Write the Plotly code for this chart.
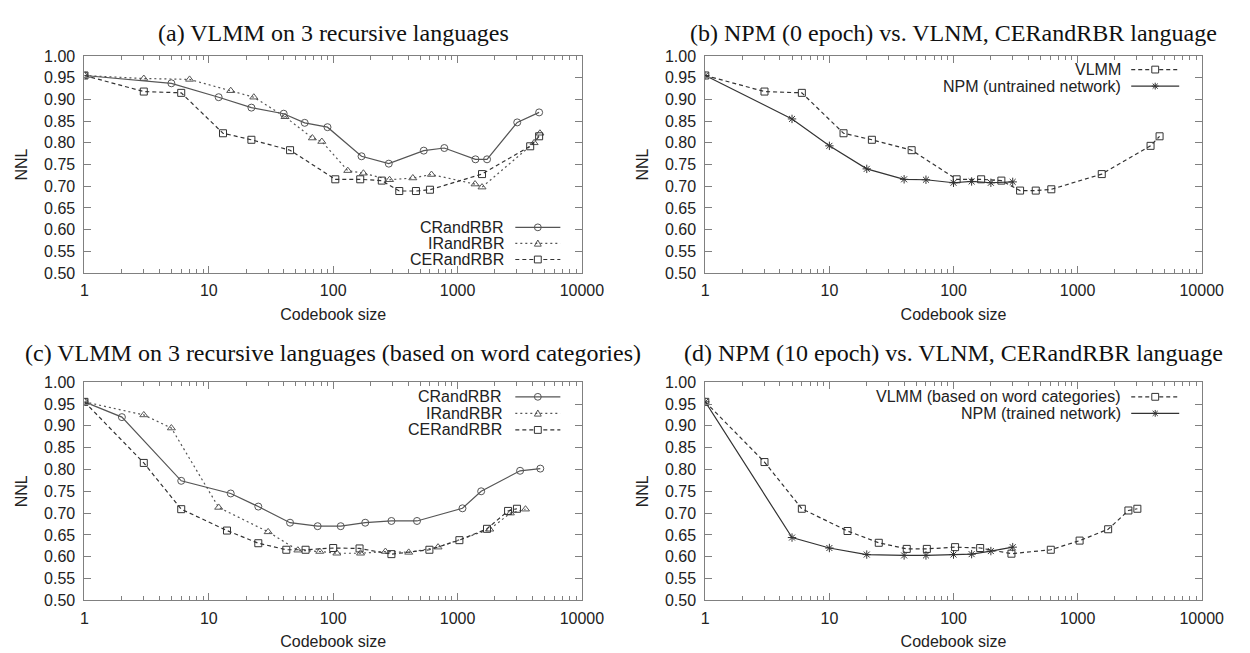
import plotly.graph_objects as go

# ---------------- data ----------------
# (a) VLMM on 3 recursive languages
a_cr_x = [1, 5, 12, 22, 40, 59, 90, 169, 280, 535, 783, 1393, 1727, 3020, 4530]
a_cr_y = [0.955, 0.937, 0.905, 0.881, 0.867, 0.846, 0.836, 0.769, 0.752, 0.782, 0.788, 0.762, 0.762, 0.847, 0.870]
a_ir_x = [1, 3, 7, 15, 23, 41, 68, 81, 131, 175, 284, 437, 617, 1383, 1574, 4130, 4600]
a_ir_y = [0.955, 0.948, 0.946, 0.920, 0.905, 0.860, 0.811, 0.803, 0.736, 0.730, 0.715, 0.719, 0.727, 0.705, 0.698, 0.800, 0.822]
a_cer_x = [1, 3, 6, 13, 22, 45, 104, 165, 246, 340, 463, 600, 1574, 3840, 4530]
a_cer_y = [0.955, 0.918, 0.915, 0.822, 0.807, 0.783, 0.716, 0.716, 0.713, 0.689, 0.689, 0.692, 0.728, 0.792, 0.815]

# (b) NPM (0 epoch) vs VLMM
b_vlmm_x = [1, 3, 6, 13, 22, 46, 106, 167, 243, 344, 460, 614, 1565, 3870, 4575]
b_vlmm_y = [0.955, 0.918, 0.915, 0.822, 0.807, 0.783, 0.716, 0.716, 0.713, 0.690, 0.690, 0.693, 0.728, 0.793, 0.815]
b_npm_x = [1, 5, 10, 20, 40, 60, 100, 140, 200, 300]
b_npm_y = [0.955, 0.855, 0.793, 0.740, 0.716, 0.715, 0.708, 0.711, 0.708, 0.710]

# (c) VLMM on 3 recursive languages (word categories)
c_cr_x = [1, 2, 6, 15, 25, 45, 75, 115, 181, 294, 472, 1096, 1549, 3184, 4630]
c_cr_y = [0.955, 0.920, 0.774, 0.745, 0.715, 0.678, 0.670, 0.670, 0.678, 0.682, 0.682, 0.711, 0.750, 0.797, 0.802]
c_ir_x = [1, 3, 5, 12, 30, 52, 78, 107, 166, 263, 405, 697, 1815, 2660, 3520]
c_ir_y = [0.955, 0.925, 0.895, 0.713, 0.657, 0.615, 0.612, 0.608, 0.608, 0.612, 0.610, 0.622, 0.663, 0.700, 0.709]
c_cer_x = [1, 3, 6, 14, 25, 42, 60, 100, 163, 294, 594, 1035, 1726, 2550, 3005]
c_cer_y = [0.955, 0.815, 0.709, 0.660, 0.631, 0.616, 0.616, 0.620, 0.619, 0.606, 0.616, 0.638, 0.664, 0.705, 0.710]

# (d) NPM (10 epoch) vs VLMM (word categories)
d_vlmm_x = [1, 3, 6, 14, 25, 42, 61, 103, 164, 293, 608, 1038, 1762, 2566, 3030]
d_vlmm_y = [0.955, 0.817, 0.710, 0.659, 0.632, 0.618, 0.618, 0.622, 0.620, 0.607, 0.616, 0.637, 0.663, 0.706, 0.710]
d_npm_x = [1, 5, 10, 20, 40, 60, 100, 140, 200, 300]
d_npm_y = [0.955, 0.644, 0.620, 0.605, 0.603, 0.603, 0.605, 0.606, 0.613, 0.622]

titles = ["(a) VLMM on 3 recursive languages",
          "(b) NPM (0 epoch) vs. VLNM, CERandRBR language",
          "(c) VLMM on 3 recursive languages (based on word categories)",
          "(d) NPM (10 epoch) vs. VLNM, CERandRBR language"]
x_tickvals = [1, 10, 100, 1000, 10000]
x_ticktext = ["1", "10", "100", "1000", "10000"]

# ---------------- layout helpers ----------------
W, H = 1250, 653
def px(p):
    return p / W
def py(p):
    return 1 - p / H

panels = {
    # name: (left, right, top, bottom) in pixels
    "a": (74, 582, 41, 264),
    "b": (708, 1215, 41, 264),
    "c": (74, 582, 376, 600),
    "d": (708, 1215, 376, 600),
}

SANS = "Liberation Sans, Arial, sans-serif"
SERIF = "Liberation Serif, Times New Roman, serif"
INK = "#222222"
FRAME = "#808080"

STYLES = {
    "cr": dict(dash="solid", symbol="circle-open", color="#555555"),
    "ir": dict(dash="2px,3px", symbol="triangle-up-open", color="#555555"),
    "cer": dict(dash="4px,3px", symbol="square-open", color="#333333"),
    "npm": dict(dash="solid", symbol="asterisk-open", color="#333333"),
}

fig = go.Figure()

def add(x, y, style, axis_idx, name):
    st = STYLES[style]
    suffix = "" if axis_idx == 1 else str(axis_idx)
    fig.add_trace(go.Scatter(
        x=x, y=y, mode="lines+markers",
        name=name, showlegend=False,
        xaxis="x" + suffix, yaxis="y" + suffix,
        line=dict(color=st["color"], width=1.2, dash=st["dash"]),
        marker=dict(symbol=st["symbol"], size=7, color=st["color"],
                    line=dict(width=1, color=st["color"])),
    ))

add(a_cr_x, a_cr_y, "cr", 1, "CRandRBR")
add(a_ir_x, a_ir_y, "ir", 1, "IRandRBR")
add(a_cer_x, a_cer_y, "cer", 1, "CERandRBR")
add(b_vlmm_x, b_vlmm_y, "cer", 2, "VLMM")
add(b_npm_x, b_npm_y, "npm", 2, "NPM (untrained network)")
add(c_cr_x, c_cr_y, "cr", 3, "CRandRBR")
add(c_ir_x, c_ir_y, "ir", 3, "IRandRBR")
add(c_cer_x, c_cer_y, "cer", 3, "CERandRBR")
add(d_vlmm_x, d_vlmm_y, "cer", 4, "VLMM (based on word categories)")
add(d_npm_x, d_npm_y, "npm", 4, "NPM (trained network)")

minor_vals = [m * 10 ** k for k in range(4) for m in range(2, 10)]

layout = dict(
    width=W, height=H,
    margin=dict(l=0, r=0, t=0, b=0),
    paper_bgcolor="white", plot_bgcolor="white",
    font=dict(family=SANS, size=16, color=INK),
    showlegend=False,
)

for i, key in enumerate(["a", "b", "c", "d"], start=1):
    l, r, t, b = panels[key]
    sfx = "" if i == 1 else str(i)
    layout["xaxis" + sfx] = dict(
        type="log", range=[0, 4], domain=[px(l), px(r)],
        anchor="y" + sfx,
        tickmode="array", tickvals=x_tickvals, ticktext=x_ticktext,
        ticks="inside", ticklen=7, tickcolor=FRAME, tickwidth=1,
        minor=dict(tickmode="array", tickvals=minor_vals, ticks="inside",
                   ticklen=4, tickcolor=FRAME, showgrid=False),
        showline=True, linecolor=FRAME, linewidth=1, mirror="ticks",
        showgrid=False, zeroline=False, ticklabelstandoff=3,
        tickfont=dict(family=SANS, size=16, color=INK),
        title=dict(text="Codebook size", font=dict(family=SANS, size=16, color=INK), standoff=10),
    )
    layout["yaxis" + sfx] = dict(
        range=[0.5, 1.0], domain=[py(b), py(t)],
        anchor="x" + sfx,
        tickmode="linear", tick0=0.5, dtick=0.05, tickformat=".2f",
        ticks="inside", ticklen=7, tickcolor=FRAME, tickwidth=1,
        showline=True, linecolor=FRAME, linewidth=1, mirror="ticks",
        showgrid=False, zeroline=False, ticklabelstandoff=5,
        tickfont=dict(family=SANS, size=16, color=INK),
        title=dict(text="NNL", font=dict(family=SANS, size=16, color=INK), standoff=12),
    )

# ---------------- gnuplot-style keys (text, then line sample) ----------------
legend_specs = [
    dict(sample=(514, 560), rows=[217, 233.5, 250], text_right=504,
         items=[("CRandRBR", "cr"), ("IRandRBR", "ir"), ("CERandRBR", "cer")]),
    dict(sample=(1143, 1192), rows=[55, 72], text_right=1135,
         items=[("VLMM", "cer"), ("NPM (untrained network)", "npm")]),
    dict(sample=(514, 560), rows=[391, 408, 425], text_right=502,
         items=[("CRandRBR", "cr"), ("IRandRBR", "ir"), ("CERandRBR", "cer")]),
    dict(sample=(1143, 1192), rows=[391, 408], text_right=1135,
         items=[("VLMM (based on word categories)", "cer"), ("NPM (trained network)", "npm")]),
]

shapes = []
annotations = []

def paper_path(points, close=True):
    s = "M " + " L ".join(f"{px(x):.5f},{py(y):.5f}" for x, y in points)
    return s + (" Z" if close else "")

def marker_shape(style, cx, cy, color):
    r = 3.5
    ln = dict(color=color, width=1)
    if style == "cr":
        return [dict(type="circle", xref="paper", yref="paper",
                     x0=px(cx - r), x1=px(cx + r), y0=py(cy + r), y1=py(cy - r),
                     line=ln, fillcolor="rgba(0,0,0,0)")]
    if style == "cer":
        return [dict(type="rect", xref="paper", yref="paper",
                     x0=px(cx - r), x1=px(cx + r), y0=py(cy + r), y1=py(cy - r),
                     line=ln, fillcolor="white")]
    if style == "ir":
        return [dict(type="path", xref="paper", yref="paper",
                     path=paper_path([(cx - r, cy + r * 0.8), (cx + r, cy + r * 0.8), (cx, cy - r)]),
                     line=ln, fillcolor="rgba(0,0,0,0)")]
    # asterisk
    out = []
    for (dx, dy) in [(r, 0), (0, r), (r * 0.75, r * 0.75), (r * 0.75, -r * 0.75)]:
        out.append(dict(type="line", xref="paper", yref="paper",
                        x0=px(cx - dx), x1=px(cx + dx), y0=py(cy - dy), y1=py(cy + dy),
                        line=ln))
    return out

for spec in legend_specs:
    x0, x1 = spec["sample"]
    for (name, style), ry in zip(spec["items"], spec["rows"]):
        st = STYLES[style]
        shapes.append(dict(type="line", xref="paper", yref="paper",
                           x0=px(x0), x1=px(x1), y0=py(ry), y1=py(ry),
                           line=dict(color=st["color"], width=1.2, dash=st["dash"])))
        shapes.extend(marker_shape(style, (x0 + x1) / 2, ry, st["color"]))
        annotations.append(dict(
            text=name, xref="paper", yref="paper",
            x=px(spec["text_right"]), y=py(ry),
            xanchor="right", yanchor="middle", showarrow=False,
            font=dict(family=SANS, size=16, color=INK),
        ))

title_pos = [((74 + 582) / 2, 17), ((708 + 1215) / 2, 17),
             ((74 + 582) / 2, 346), ((708 + 1215) / 2, 346)]
for txt, (cx, cy) in zip(titles, title_pos):
    annotations.append(dict(
        text=txt, xref="paper", yref="paper", x=px(cx), y=py(cy),
        xanchor="center", yanchor="middle", showarrow=False,
        font=dict(family=SERIF, size=24, color="#111111"),
    ))

layout["annotations"] = annotations
layout["shapes"] = shapes
fig.update_layout(**layout)
fig.write_html("out.html")
